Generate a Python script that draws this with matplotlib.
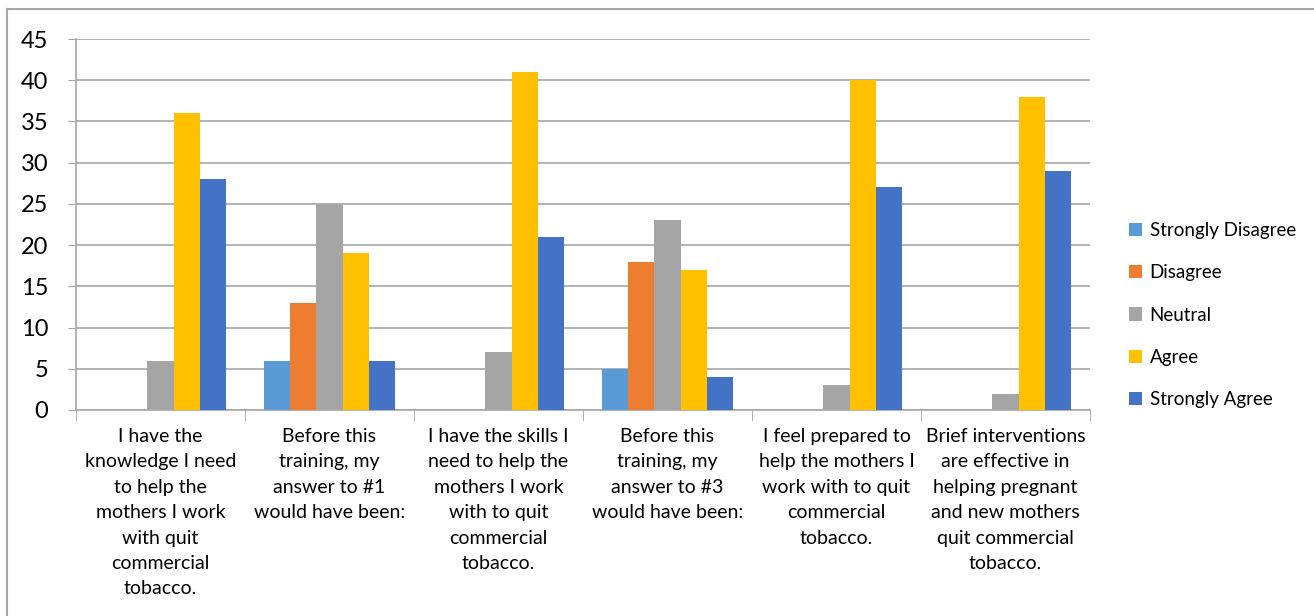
""" survey responses grouped bar chart """
import matplotlib.pyplot as plt
import numpy as np
from matplotlib.lines import Line2D

plt.rcParams['font.family'] = ['Lato', 'DejaVu Sans']

categories = [
    "I have the\nknowledge I need\nto help the\nmothers I work\nwith quit\ncommercial\ntobacco.",
    "Before this\ntraining, my\nanswer to #1\nwould have been:",
    "I have the skills I\nneed to help the\nmothers I work\nwith to quit\ncommercial\ntobacco.",
    "Before this\ntraining, my\nanswer to #3\nwould have been:",
    "I feel prepared to\nhelp the mothers I\nwork with to quit\ncommercial\ntobacco.",
    "Brief interventions\nare effective in\nhelping pregnant\nand new mothers\nquit commercial\ntobacco.",
]
series_names = ["Strongly Disagree", "Disagree", "Neutral", "Agree", "Strongly Agree"]
strongly_disagree = [0, 6, 0, 5, 0, 0]
disagree = [0, 13, 0, 18, 0, 0]
neutral = [6, 25, 7, 23, 3, 2]
agree = [36, 19, 41, 17, 40, 38]
strongly_agree = [28, 6, 21, 4, 27, 29]
colors = ["#5B9BD5", "#ED7D31", "#A5A5A5", "#FFC000", "#4472C4"]

W, H = 1314, 616
fig = plt.figure(figsize=(W / 100, H / 100), dpi=100)
ax = fig.add_axes([76 / W, 1 - 410 / H, (1090 - 76) / W, (410 - 39) / H])

x = np.arange(len(categories))
bar_w = 0.154
values = [strongly_disagree, disagree, neutral, agree, strongly_agree]
for i, (name, vals, col) in enumerate(zip(series_names, values, colors)):
    ax.bar(x + (i - 2) * bar_w, vals, width=bar_w, color=col, label=name, zorder=3)

ax.set_xlim(-0.5, len(categories) - 0.5)
ax.set_ylim(0, 45)
ax.set_yticks(range(0, 46, 5))
ax.tick_params(axis='y', labelsize=17, length=6, color='#a6a6a6', pad=14)
ax.yaxis.grid(True, color='#a6a6a6', linewidth=1.2, zorder=0)

ax.set_xticks(x)
ax.set_xticklabels(categories, fontsize=14, linespacing=1.6)
ax.tick_params(axis='x', length=0, pad=13)
ax.set_xticks(np.arange(-0.5, len(categories)), minor=True)
ax.tick_params(axis='x', which='minor', length=8, color='#a6a6a6')

for side in ['top', 'right']:
    ax.spines[side].set_visible(False)
ax.spines['left'].set_color('#a6a6a6')
ax.spines['bottom'].set_color('#a6a6a6')
ax.spines['left'].set_linewidth(1.2)
ax.spines['bottom'].set_linewidth(1.2)

ax.legend(loc='center left', bbox_to_anchor=(1.0 + 22 / (1090 - 76), 0.256),
          frameon=False, fontsize=13.5, handlelength=0.7, handleheight=0.7,
          handletextpad=0.4, labelspacing=1.35)

# outer chart border
fig.add_artist(Line2D([7 / W, 1], [1 - 9 / H, 1 - 9 / H], color='#a6a6a6', linewidth=1.5))
fig.add_artist(Line2D([7 / W, 7 / W], [0, 1 - 9 / H], color='#a6a6a6', linewidth=1.5))

fig.savefig('out.png', dpi=100)
